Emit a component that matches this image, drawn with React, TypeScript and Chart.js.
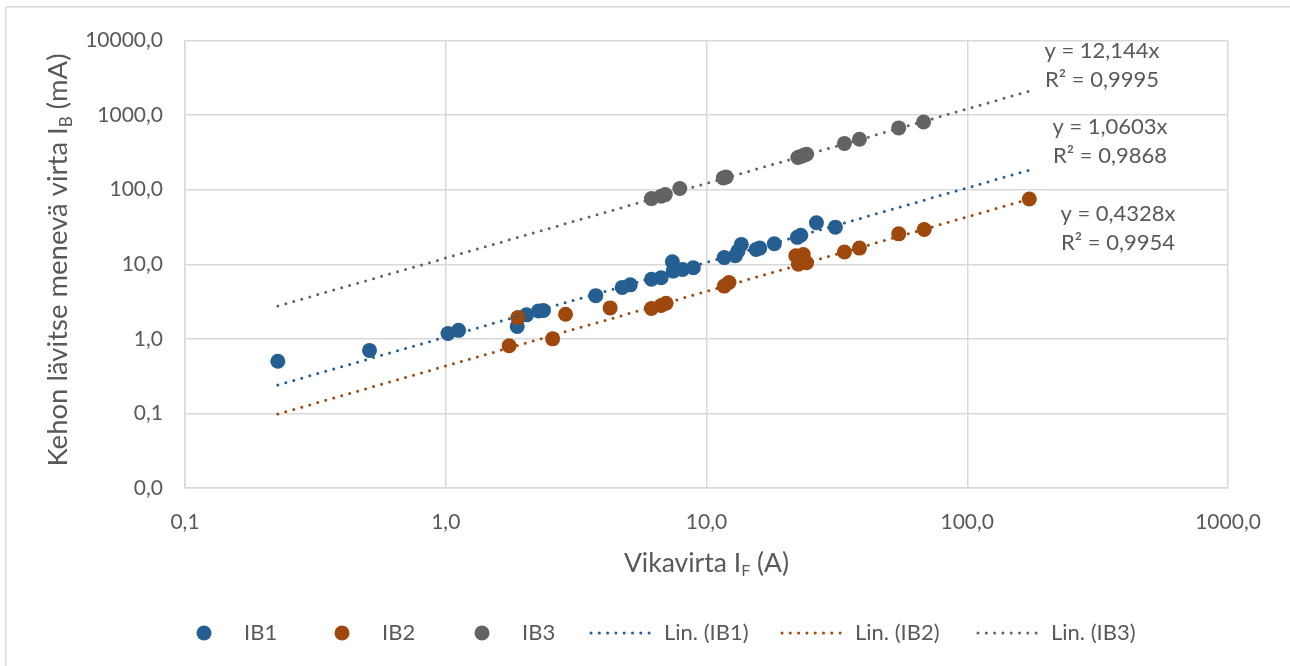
import { useEffect, useRef } from "react";
import { Chart, registerables } from "chart.js";

Chart.register(...registerables);

// Measured fault current (A) and current through the body (mA)
const ib1X = [0.227, 0.51, 1.02, 1.12, 1.88, 2.04, 2.27, 2.37, 3.76, 4.75, 5.1, 6.15, 6.7, 7.4, 7.45, 8.1, 8.9, 11.7, 12.9, 13.2, 13.6, 15.5, 16.0, 18.2, 22.3, 23.0, 26.4, 31.2];
const ib1Y = [0.5, 0.7, 1.18, 1.3, 1.47, 2.1, 2.37, 2.4, 3.8, 4.9, 5.3, 6.3, 6.6, 10.8, 8.1, 8.5, 9.0, 12.3, 13.0, 15.0, 18.5, 15.8, 16.5, 18.9, 23.0, 24.5, 36.0, 31.5];

const ib2X = [1.75, 1.89, 2.57, 2.88, 4.27, 6.15, 6.7, 7.0, 11.7, 12.2, 22.0, 22.5, 23.5, 24.2, 33.8, 38.6, 54.6, 68.4, 173];
const ib2Y = [0.81, 1.93, 1.0, 2.14, 2.6, 2.55, 2.8, 3.0, 5.1, 5.7, 13.0, 10.0, 13.5, 10.5, 14.6, 16.5, 25.6, 29.3, 75];

const ib3X = [6.15, 6.7, 6.95, 7.9, 11.6, 11.9, 22.4, 23.0, 23.6, 24.2, 33.8, 38.6, 54.6, 68.0];
const ib3Y = [76, 82, 86, 104, 144, 148, 270, 280, 290, 300, 418, 475, 675, 810];

// Linear trend lines through the origin: y = k·x
const seriesNames = ["IB1", "IB2", "IB3"];
const trendSlopes = [1.0603, 0.4328, 12.144];
const trendR2 = ["0,9868", "0,9954", "0,9995"];
const trendEq = ["y = 1,0603x", "y = 0,4328x", "y = 12,144x"];

const xTicks = [0.1, 1, 10, 100, 1000];
const yTicks = [0.01, 0.1, 1, 10, 100, 1000, 10000];

const colors = ["#255E91", "#9E480E", "#636363"];
const TEXT = "#595959";
const GRID = "#D9D9D9";
const FONT = "Lato, 'Open Sans', sans-serif";

const fmt = (v: number) => v.toFixed(1).replace(".", ",");

type Part = [string, boolean];

function drawRich(ctx: CanvasRenderingContext2D, parts: Part[], x: number, y: number, size: number) {
  const main = `${size}px ${FONT}`;
  const sub = `${Math.round(size * 0.62)}px ${FONT}`;
  let total = 0;
  const widths = parts.map(([t, s]) => {
    ctx.font = s ? sub : main;
    const w = ctx.measureText(t).width;
    total += w;
    return w;
  });
  let cx = x - total / 2;
  ctx.textAlign = "left";
  ctx.textBaseline = "middle";
  parts.forEach(([t, s], i) => {
    ctx.font = s ? sub : main;
    ctx.fillText(t, cx, s ? y + size * 0.3 : y);
    cx += widths[i];
  });
}

const decorations = {
  id: "decorations",
  beforeDraw(chart: Chart) {
    const ctx = chart.ctx;
    ctx.save();
    ctx.fillStyle = "#ffffff";
    ctx.fillRect(0, 0, chart.width, chart.height);
    ctx.strokeStyle = GRID;
    ctx.lineWidth = 1.5;
    ctx.strokeRect(0.75, 0.75, chart.width + 10, chart.height + 10);
    ctx.restore();
  },
  afterDraw(chart: Chart) {
    const ctx = chart.ctx;
    const a = chart.chartArea;
    ctx.save();
    ctx.fillStyle = TEXT;

    // axis titles
    drawRich(ctx, [["Vikavirta I", false], ["F", true], [" (A)", false]], (a.left + a.right) / 2, 557, 26.5);
    ctx.save();
    ctx.translate(53, 254);
    ctx.rotate(-Math.PI / 2);
    drawRich(ctx, [["Kehon lävitse menevä virta I", false], ["B", true], [" (mA)", false]], 0, 0, 27.5);
    ctx.restore();

    // trend line equations
    const eqPos = [
      [a.right - 118, 120.7, 150],
      [a.right - 110, 208, 236.7],
      [a.right - 126, 45, 74],
    ];
    ctx.font = `22px ${FONT}`;
    ctx.textAlign = "center";
    ctx.textBaseline = "middle";
    eqPos.forEach(([x, y1, y2], i) => {
      ctx.fillText(trendEq[i], x, y1);
      ctx.fillText(`R² = ${trendR2[i]}`, x, y2);
    });

    // legend
    const ly = 627;
    ctx.font = `22px ${FONT}`;
    ctx.textAlign = "left";
    const markerX = [199, 337, 477];
    markerX.forEach((mx, i) => {
      ctx.fillStyle = colors[i];
      ctx.beginPath();
      ctx.arc(mx, ly, 7.5, 0, Math.PI * 2);
      ctx.fill();
      ctx.fillStyle = TEXT;
      ctx.fillText(seriesNames[i], mx + 40, ly);
    });
    const lineX = [584, 775, 971];
    lineX.forEach((lx, i) => {
      ctx.strokeStyle = colors[i];
      ctx.lineWidth = 3;
      ctx.lineCap = "round";
      ctx.setLineDash([0, 8.3]);
      ctx.beginPath();
      ctx.moveTo(lx + 2, ly);
      ctx.lineTo(lx + 68, ly);
      ctx.stroke();
      ctx.setLineDash([]);
      ctx.fillStyle = TEXT;
      ctx.fillText(`Lin. (${seriesNames[i]})`, lx + 75, ly);
    });
    ctx.restore();
  },
};

export default function App() {
  const ref = useRef<HTMLCanvasElement | null>(null);

  useEffect(() => {
    if (!ref.current) return;
    const xs = [ib1X, ib2X, ib3X];
    const ys = [ib1Y, ib2Y, ib3Y];
    const all = [...ib1X, ...ib2X, ...ib3X];
    const xMin = Math.min(...all);
    const xMax = Math.max(...all);

    const pointSets = xs.map((xv, i) => ({
      label: seriesNames[i],
      data: xv.map((x, j) => ({ x, y: ys[i][j] })),
      backgroundColor: colors[i],
      borderWidth: 0,
      pointRadius: 7.5,
      pointHoverRadius: 7.5,
      order: 6 - i,
    }));
    const trendSets = trendSlopes.map((k, i) => ({
      label: `Lin. (${seriesNames[i]})`,
      data: [
        { x: xMin, y: k * xMin },
        { x: xMax, y: k * xMax },
      ],
      showLine: true,
      borderColor: colors[i],
      backgroundColor: colors[i],
      borderWidth: 3,
      borderDash: [0, 8.3],
      borderCapStyle: "round" as const,
      pointRadius: 0,
      fill: false,
      order: 3 - i,
    }));

    const scaleCommon = {
      type: "logarithmic" as const,
      grid: { color: GRID, lineWidth: 1.5, drawTicks: false },
      border: { color: GRID, width: 1.5 },
    };

    const chart = new Chart(ref.current, {
      type: "scatter",
      data: { datasets: [...pointSets, ...trendSets] as any },
      options: {
        responsive: false,
        animation: false,
        layout: { padding: { top: 28, right: 77, left: 0, bottom: 0 } },
        plugins: { legend: { display: false }, tooltip: { enabled: false } },
        scales: {
          x: {
            ...scaleCommon,
            position: "bottom",
            min: 0.1,
            max: 1000,
            afterBuildTicks: (s: any) => {
              s.ticks = xTicks.map((value) => ({ value }));
            },
            afterFit: (s: any) => {
              s.height = 188;
            },
            ticks: {
              callback: (v: any) => fmt(Number(v)),
              color: TEXT,
              font: { family: FONT, size: 21 },
              padding: 22,
              autoSkip: false,
              maxRotation: 0,
            },
          },
          y: {
            ...scaleCommon,
            position: "left",
            min: 0.01,
            max: 10000,
            afterBuildTicks: (s: any) => {
              s.ticks = yTicks.map((value) => ({ value }));
            },
            afterFit: (s: any) => {
              s.width = 180;
            },
            ticks: {
              callback: (v: any) => fmt(Number(v)),
              color: TEXT,
              font: { family: FONT, size: 21 },
              padding: 22,
              autoSkip: false,
            },
          },
        },
      } as any,
      plugins: [decorations],
    });
    return () => chart.destroy();
  }, []);

  return (
    <div style={{ position: "fixed", inset: 0, overflow: "hidden", background: "#fff" }}>
      <div style={{ position: "absolute", left: 5, top: 6, width: 1300, height: 670 }}>
        <canvas ref={ref} width={1300} height={670} style={{ display: "block" }} />
      </div>
    </div>
  );
}
